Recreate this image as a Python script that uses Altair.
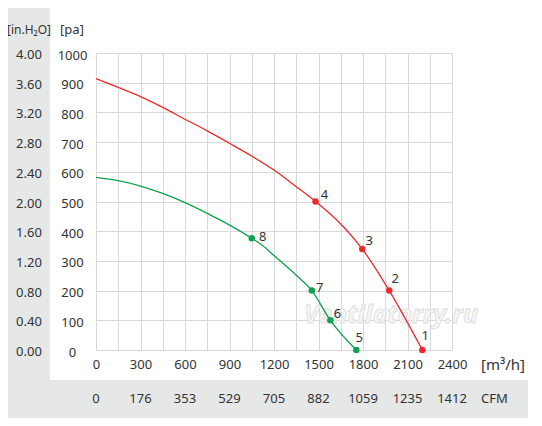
import altair as alt
import pandas as pd

# ---------------- data ----------------
flow_ticks = [0, 300, 600, 900, 1200, 1500, 1800, 2100, 2400]
cfm_labels = ["0", "176", "353", "529", "705", "882", "1059", "1235", "1412"]
pa_ticks = [0, 100, 200, 300, 400, 500, 600, 700, 800, 900, 1000]
inh2o_labels = ["0.00", "0.40", "0.80", "1.20", "1.60", "2.00", "2.40", "2.80", "3.20", "3.60", "4.00"]

red_flow = [0, 150, 300, 450, 600, 750, 900, 1050, 1200, 1350, 1480, 1650, 1795, 1977, 2200]
red_pa = [914, 884, 853, 817, 777, 738, 696, 653, 606, 550, 500, 424, 340, 200, 0]
green_flow = [0, 150, 300, 450, 600, 750, 836, 1050, 1125, 1200, 1350, 1455, 1580, 1755]
green_pa = [581, 570, 552, 527, 496, 460, 438, 376, 351, 318, 252, 200, 100, 0]

point_ids = ["1", "2", "3", "4", "5", "6", "7", "8"]
point_flow = [2200, 1977, 1795, 1480, 1755, 1580, 1455, 1050]
point_pa = [0, 200, 340, 500, 0, 100, 200, 376]
point_series = ["red", "red", "red", "red", "green", "green", "green", "green"]

# ---------------- styles ----------------
RED = "#ee2a2e"
GREEN = "#0ea24f"
GRID = "#d9d9d9"
PANEL = "#e6e7e7"
TXT = "#333333"
FONT = "Noto Sans"
W, H = 356, 297
label_offsets = {"1": (3, -14), "2": (6, -12), "3": (7, -8), "4": (9, -7),
                 "5": (3, -12), "6": (7, -6), "7": (8, -3), "8": (11, -1)}

xscale = alt.Scale(domain=[0, 2400], nice=False, zero=True)
yscale = alt.Scale(domain=[0, 1000], nice=False, zero=True)

AX = alt.Axis(
    values=list(range(0, 2401, 150)),
    labelExpr="datum.value % 300 == 0 ? datum.label : ''",
    format="d", title=None, ticks=False, domain=False, grid=True,
    gridColor=GRID, gridWidth=1, labelPadding=8, labelFontSize=13,
    labelFont=FONT, labelColor=TXT, labelFlush=False, labelOverlap=False)
AY = alt.Axis(
    values=pa_ticks, format="d", title=None, ticks=False, domain=False, grid=True,
    gridColor=GRID, gridWidth=1, labelAlign="center", labelBaseline="middle",
    labelPadding=24, labelFontSize=13, labelFont=FONT, labelColor=TXT,
    labelFlush=False, labelOverlap=False, labelOffset=2)

curve_df = pd.DataFrame({
    "flow": red_flow + green_flow,
    "pa": red_pa + green_pa,
    "series": ["red"] * len(red_flow) + ["green"] * len(green_flow),
})
pts_df = pd.DataFrame({"id": point_ids, "flow": point_flow, "pa": point_pa, "series": point_series})
cfm_df = pd.DataFrame({"flow": flow_ticks, "cfm": cfm_labels})
inh_df = pd.DataFrame({"pa": pa_ticks, "lab": inh2o_labels})

color = alt.Color("series:N", scale=alt.Scale(domain=["red", "green"], range=[RED, GREEN]), legend=None)

X = alt.X("flow:Q", scale=xscale, axis=AX)
Y = alt.Y("pa:Q", scale=yscale, axis=AY)

one = alt.Data(values=[{"a": 1}])

panel_left = alt.Chart(one).mark_rect(color=PANEL).encode(
    x=alt.value(-88), x2=alt.value(-46), y=alt.value(-45), y2=alt.value(365))
panel_bottom = alt.Chart(one).mark_rect(color=PANEL).encode(
    x=alt.value(-88), x2=alt.value(432), y=alt.value(327), y2=alt.value(365))

watermark = alt.Chart(one).mark_text(
    text="Ventilatorry.ru", font=FONT, fontSize=25, fontStyle="italic", fontWeight="bold",
    fill="#f6f6f6", stroke="#dcdcdc", strokeWidth=0.8, align="center", baseline="middle"
).encode(x=alt.value(295), y=alt.value(262))

lines = alt.Chart(curve_df).mark_line(interpolate="monotone", strokeWidth=1.3).encode(
    x=X, y=Y, color=color, detail="series:N")

points = alt.Chart(pts_df).mark_circle(size=42, opacity=1).encode(x=X, y=Y, color=color)

label_layers = []
for pid in point_ids:
    dx, dy = label_offsets[pid]
    label_layers.append(
        alt.Chart(pts_df).transform_filter(alt.datum.id == pid).mark_text(
            font=FONT, fontSize=13, color=TXT, align="center", baseline="middle", dx=dx, dy=dy
        ).encode(x=X, y=Y, text="id:N")
    )

cfm_text = alt.Chart(cfm_df).mark_text(
    font=FONT, fontSize=13, color=TXT, align="center", baseline="middle"
).encode(x=X, y=alt.value(346), text="cfm:N")

inh_text = alt.Chart(inh_df).mark_text(
    font=FONT, fontSize=13, color=TXT, align="center", baseline="middle", dy=2
).encode(x=alt.value(-67), y=Y, text="lab:N")

hdr_in = alt.Chart(one).mark_text(
    text="[in.H₂O]", font=FONT, fontSize=12, color=TXT, align="center", baseline="middle"
).encode(x=alt.value(-67), y=alt.value(-23))
hdr_pa = alt.Chart(one).mark_text(
    text="[pa]", font=FONT, fontSize=13, color=TXT, align="center", baseline="middle"
).encode(x=alt.value(-24), y=alt.value(-23))
unit_m3 = alt.Chart(one).mark_text(
    text="[m³/h]", font=FONT, fontSize=15, color=TXT, align="left", baseline="middle"
).encode(x=alt.value(385), y=alt.value(312))
unit_cfm = alt.Chart(one).mark_text(
    text="CFM", font=FONT, fontSize=13, color=TXT, align="left", baseline="middle"
).encode(x=alt.value(385), y=alt.value(346))

chart = alt.layer(
    panel_left, panel_bottom, watermark, lines, points, *label_layers,
    cfm_text, inh_text, hdr_in, hdr_pa, unit_m3, unit_cfm
).properties(
    width=W, height=H,
    autosize=alt.AutoSizeParams(type="none"),
    padding={"left": 88, "top": 45, "right": 82, "bottom": 70},
    background="white",
).configure_view(strokeWidth=0)

chart.save("out.html", embed_options={"renderer": "svg", "actions": False})
